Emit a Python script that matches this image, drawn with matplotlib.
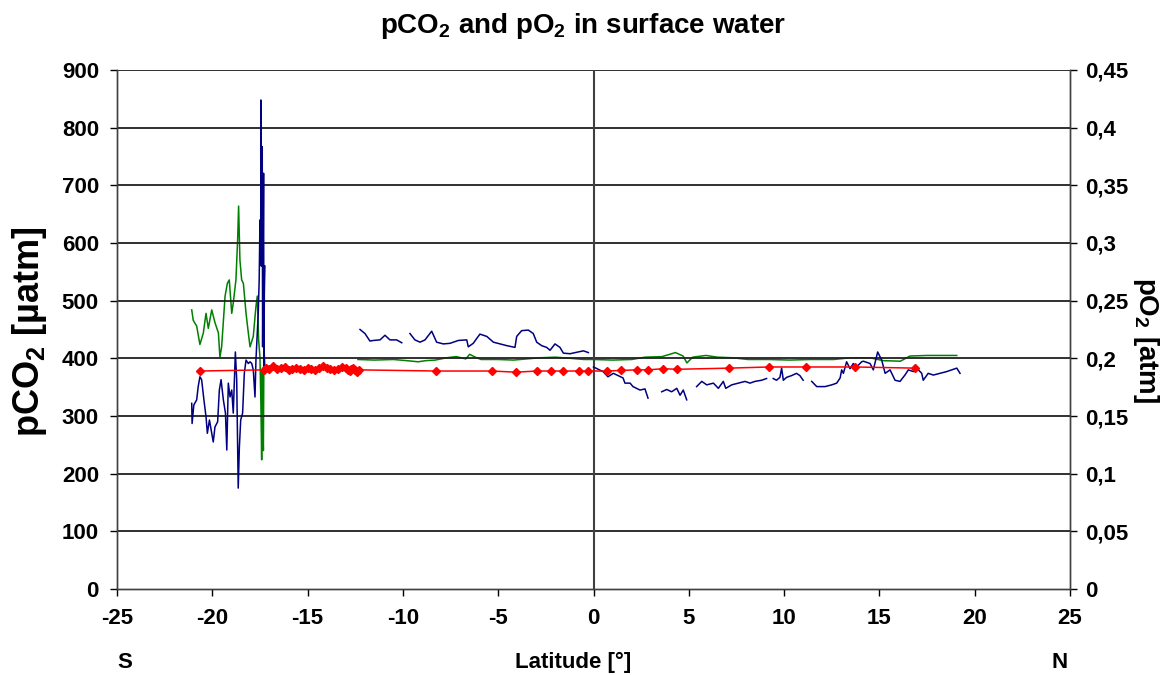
import numpy as np
import matplotlib
matplotlib.use("Agg")
import matplotlib.pyplot as plt

nan = np.nan

# ---------------- data ----------------
# pCO2 in surface water [uatm] (blue), segments separated by nan
pco2_lat = [-21.08, -21.06, -20.97, -20.82, -20.74, -20.65, -20.56, -20.44, -20.33, -20.26,
            -20.15, -20.03, -19.95, -19.86, -19.72, -19.63, -19.54, -19.42, -19.31, -19.24,
            -19.16, -19.07, -18.98, -18.90, -18.79, -18.72, -18.64, -18.58, -18.51, -18.41,
            -18.32, -18.23, -18.11, -18.02, -17.93, -17.85, -17.76, -17.71, -17.64, -17.59,
            -17.54, -17.50, -17.46, -17.45, -17.43, -17.41, -17.38, -17.36, -17.34, -17.31,
            -17.29, -17.27, -17.24,
            nan,
            -12.25, -11.99, -11.73, -11.55, -11.20, -10.94, -10.68, -10.33, -10.06,
            nan,
            -9.63, -9.37, -9.10, -8.84, -8.49, -8.23, -7.88, -7.53, -7.09, -6.65,
            -6.57, -6.31, -5.96, -5.60, -5.25, -4.91, -4.55, -4.12, -4.03, -3.77,
            -3.42, -3.16, -2.98, -2.72, -2.46, -2.28, -2.02, -1.76, -1.58, -1.23,
            -0.80, -0.53, -0.27,
            nan,
            0.00, 0.50, 0.76, 1.04, 1.30, 1.55, 1.65, 1.92, 2.07, 2.44, 2.70, 2.86,
            nan,
            3.58, 3.84, 4.10, 4.37, 4.54, 4.71, 4.89,
            nan,
            5.41, 5.68, 5.94, 6.29, 6.55, 6.81, 6.94, 7.25, 7.60, 7.95, 8.21, 8.47,
            8.82, 9.08,
            nan,
            9.43, 9.60, 9.78, 9.87, 9.96, 10.13, 10.39, 10.65, 10.83, 11.00,
            nan,
            11.45, 11.71, 12.15, 12.50, 12.76, 12.94, 13.02, 13.11, 13.28, 13.46,
            13.63, 13.80, 14.07, 14.16, 14.51, 14.68, 14.91, 15.12, 15.30, 15.56,
            15.82, 16.08, 16.34, 16.52, 16.78, 16.96, 17.22, 17.30, 17.56, 17.83,
            18.18, 18.53, 18.79, 19.06, 19.23]
pco2_val = [322, 287, 319, 328, 351, 368, 363, 328, 299, 270,
            293, 270, 255, 281, 290, 345, 363, 328, 305, 241,
            357, 333, 345, 305, 411, 363, 175, 246, 293, 305,
            374, 397, 391, 394, 391, 380, 333, 397, 443, 478,
            536, 640, 605, 848, 560, 709, 767, 420, 536, 721,
            380, 513, 560,
            nan,
            450, 443, 430, 431, 432, 440, 432, 432, 427,
            nan,
            443, 432, 428, 432, 447, 428, 425, 426, 431, 432,
            420, 426, 442, 438, 428, 425, 422, 419, 438, 448,
            449, 443, 428, 422, 419, 414, 425, 419, 409, 408,
            411, 413, 410,
            nan,
            385, 377, 368, 374, 370, 366, 357, 357, 351, 345, 347, 331,
            nan,
            342, 346, 342, 348, 336, 345, 328,
            nan,
            351, 360, 354, 357, 348, 360, 348, 354, 357, 360, 357, 360,
            362, 365,
            nan,
            365, 362, 367, 383, 362, 367, 370, 374, 370, 362,
            nan,
            360, 351, 351, 354, 357, 366, 380, 374, 394, 382,
            391, 385, 394, 395, 391, 380, 411, 397, 374, 380,
            362, 360, 371, 380, 377, 383, 374, 362, 374, 371,
            374, 377, 380, 383, 374]

# pO2 in surface water [atm] (green), right axis
po2_lat = [-21.08, -21.00, -20.82, -20.65, -20.47, -20.33, -20.21, -20.03, -19.86, -19.68,
           -19.60, -19.51, -19.33, -19.21, -19.11, -18.98, -18.90, -18.76, -18.67, -18.62,
           -18.55, -18.46, -18.37, -18.23, -18.11, -18.02, -17.85, -17.71, -17.64, -17.57,
           -17.50, -17.45, -17.41, -17.38, -17.36, -17.32, -17.29, -17.24,
           nan,
           -12.36, -11.50, -10.50, -9.80, -9.20, -8.80, -8.30, -7.70, -7.20, -6.70,
           -6.50, -6.20, -5.90, -5.00, -4.20, -3.50, -2.80, -2.00, -1.20, -0.50,
           0.00, 1.00, 2.00, 2.70, 3.60, 4.10, 4.30, 4.70, 4.90, 5.20,
           5.90, 6.50, 7.30, 8.10, 9.20, 10.30, 11.40, 12.60, 13.50, 14.50,
           15.20, 16.10, 16.60, 17.50, 18.50, 19.06]
po2_val = [0.242, 0.233, 0.228, 0.212, 0.222, 0.239, 0.226, 0.242, 0.231, 0.222,
           0.201, 0.210, 0.254, 0.265, 0.268, 0.239, 0.248, 0.268, 0.303, 0.332,
           0.285, 0.268, 0.265, 0.239, 0.222, 0.210, 0.219, 0.245, 0.254, 0.216,
           0.201, 0.160, 0.112, 0.190, 0.150, 0.120, 0.210, 0.193,
           nan,
           0.199, 0.1985, 0.199, 0.198, 0.197, 0.198, 0.1985, 0.2005, 0.2015, 0.1995,
           0.2035, 0.201, 0.199, 0.199, 0.1985, 0.1995, 0.2005, 0.201, 0.200, 0.199,
           0.199, 0.1985, 0.199, 0.201, 0.2015, 0.204, 0.205, 0.202, 0.196, 0.201,
           0.2025, 0.201, 0.2005, 0.199, 0.199, 0.1985, 0.199, 0.199, 0.2005, 0.2005,
           0.198, 0.1975, 0.202, 0.2025, 0.2025, 0.2025]

# atmospheric pCO2 [uatm] (red, diamonds)
atm_lat = [-20.65,
           -17.30, -17.20, -17.00, -16.80, -16.60, -16.40, -16.20, -16.00, -15.80, -15.60,
           -15.40, -15.20, -15.00, -14.80, -14.60, -14.40, -14.20, -14.00, -13.80, -13.60,
           -13.40, -13.20, -13.00, -12.90, -12.80, -12.70, -12.60, -12.50, -12.40, -12.30,
           -8.26, -5.33, -4.07, -2.96, -2.23, -1.60, -0.76, -0.29, 0.71, 1.44,
           2.28, 2.86, 3.65, 4.38, 7.11, 9.21, 11.15, 13.72, 16.87]
atm_val = [378,
           380, 384, 382, 386, 381, 383, 385, 380, 382, 384,
           381, 379, 383, 382, 380, 384, 386, 383, 381, 379,
           382, 385, 383, 380, 378, 381, 383, 379, 377, 380,
           378, 378, 376, 378, 378, 378, 378, 378, 378, 379,
           380, 380, 382, 381, 383, 385, 385, 385, 383]

x_ticks = [-25, -20, -15, -10, -5, 0, 5, 10, 15, 20, 25]
y_ticks = [0, 100, 200, 300, 400, 500, 600, 700, 800, 900]
y2_ticks = [0, 0.05, 0.1, 0.15, 0.2, 0.25, 0.3, 0.35, 0.4, 0.45]
y2_labels = ["0", "0,05", "0,1", "0,15", "0,2", "0,25", "0,3", "0,35", "0,4", "0,45"]

# ---------------- style ----------------
plt.rcParams['font.family'] = ['Liberation Sans', 'DejaVu Sans']
plt.rcParams['font.weight'] = 'bold'
plt.rcParams['axes.unicode_minus'] = False
plt.rcParams['mathtext.fontset'] = 'custom'
plt.rcParams['mathtext.rm'] = 'Liberation Sans:bold'
plt.rcParams['mathtext.it'] = 'Liberation Sans:bold'
plt.rcParams['mathtext.bf'] = 'Liberation Sans:bold'
plt.rcParams['mathtext.default'] = 'rm'

W, H = 1165, 675
fig = plt.figure(figsize=(W / 100, H / 100), dpi=100)
ax = fig.add_axes([117 / W, 1 - 589 / H, (1070 - 117) / W, (589 - 70) / H])
ax2 = ax.twinx()

grid_c = '#202020'
ax.set_xlim(-25, 25)
ax.set_ylim(0, 900)
ax2.set_ylim(0, 0.45)
ax.set_yticks(y_ticks)
ax.set_xticks(x_ticks)
ax.set_xticklabels([str(t) for t in x_ticks])
ax2.set_yticks(y2_ticks)
ax2.set_yticklabels(y2_labels)

for yv in y_ticks[1:]:
    ax.axhline(yv, color=grid_c, lw=1.3, zorder=1)
ax.axvline(0, color='#404040', lw=1.5, zorder=1)

ax.plot(pco2_lat, pco2_val, color='#000080', lw=1.1, zorder=4)
ax2.plot(po2_lat, po2_val, color='#008000', lw=1.1, zorder=3)
ax.plot(atm_lat, atm_val, color='#FF0000', lw=1.1, marker='D', ms=4,
        mec='#FF0000', mfc='#FF0000', zorder=5)

ax.set_zorder(ax2.get_zorder() + 1)
ax.patch.set_visible(False)

for a in (ax, ax2):
    a.spines['top'].set_visible(False)
    for s in ('left', 'right', 'bottom'):
        a.spines[s].set_color('#404040')
        a.spines[s].set_linewidth(1.0)

ax.tick_params(axis='x', direction='out', length=5, width=1, pad=9, labelsize=16)
ax.tick_params(axis='y', direction='out', length=5, width=1, pad=8, labelsize=16)
ax2.tick_params(axis='y', direction='out', length=5, width=1, pad=6, labelsize=16)
for lab in ax.get_xticklabels() + ax.get_yticklabels() + ax2.get_yticklabels():
    lab.set_fontweight('bold')

fig.text(583 / W, 1 - 26 / H, 'pCO$_2$ and pO$_2$ in surface water', ha='center', va='center',
         fontsize=20, fontweight='bold')
fig.text(30 / W, 1 - 332 / H, 'pCO$_2$ [µatm]', rotation=90, ha='center', va='center',
         fontsize=26, fontweight='bold')
fig.text(1146 / W, 1 - 340 / H, 'pO$_2$ [atm]', rotation=270, ha='center', va='center',
         fontsize=20, fontweight='bold')
fig.text(573 / W, 1 - 662 / H, 'Latitude [°]', ha='center', va='center',
         fontsize=16, fontweight='bold')
fig.text(125 / W, 1 - 662 / H, 'S', ha='center', va='center', fontsize=16, fontweight='bold')
fig.text(1060 / W, 1 - 662 / H, 'N', ha='center', va='center', fontsize=16, fontweight='bold')

fig.savefig('out.png', dpi=100)
